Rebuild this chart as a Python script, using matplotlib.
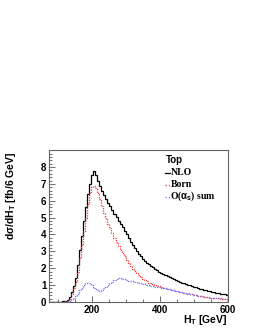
import numpy as np
import matplotlib
matplotlib.use("Agg")
import matplotlib.pyplot as plt
from matplotlib.lines import Line2D
from matplotlib.ticker import MultipleLocator

# 6 GeV bins, 72 -> 600 GeV
bin_lo = 72
bin_w = 6

nlo = [0, 0, 0, 0, 0, 0.01, 0.02, 0.03, 0.06, 0.12,
       0.3, 0.6, 0.95, 1.4, 2.2, 3.1, 3.9, 4.8, 5.6, 6.4,
       7.0, 7.5, 7.75, 7.55, 7.2, 6.9, 6.6, 6.35, 6.1, 5.85,
       5.67, 5.45, 5.23, 5.02, 4.82, 4.62, 4.42, 4.22, 4.0, 3.78,
       3.58, 3.38, 3.18, 3.0, 2.85, 2.7, 2.56, 2.44, 2.33, 2.23,
       2.14, 2.05, 1.96, 1.88, 1.8, 1.72, 1.65, 1.58, 1.52, 1.46,
       1.4, 1.35, 1.3, 1.25, 1.2, 1.15, 1.1, 1.06, 1.02, 0.98,
       0.94, 0.9, 0.86, 0.82, 0.78, 0.75, 0.72, 0.69, 0.66, 0.63,
       0.6, 0.57, 0.54, 0.52, 0.5, 0.47, 0.45, 0.43]

born = [0, 0, 0, 0, 0, 0, 0.01, 0.02, 0.04, 0.08,
        0.2, 0.45, 0.8, 1.2, 1.8, 2.6, 3.4, 4.2, 5.0, 5.8,
        6.45, 6.8, 6.9, 6.75, 6.45, 6.1, 5.7, 5.3, 4.95, 4.65,
        4.4, 4.1, 3.8, 3.55, 3.3, 3.1, 2.9, 2.7, 2.5, 2.3,
        2.12, 1.97, 1.83, 1.7, 1.58, 1.47, 1.38, 1.3, 1.22, 1.15,
        1.1, 1.05, 1.0, 0.96, 0.92, 0.88, 0.85, 0.82, 0.79, 0.76,
        0.73, 0.7, 0.66, 0.63, 0.6, 0.57, 0.54, 0.52, 0.5, 0.48,
        0.46, 0.43, 0.4, 0.37, 0.35, 0.33, 0.31, 0.29, 0.27, 0.26,
        0.25, 0.23, 0.22, 0.21, 0.2, 0.19, 0.18, 0.17]

oas_sum = [0, 0, 0, 0, 0, 0, 0, 0.01, 0.02, 0.04,
           0.08, 0.15, 0.25, 0.38, 0.5, 0.68, 0.85, 1.0, 1.1, 1.15,
           1.12, 1.0, 0.85, 0.75, 0.68, 0.65, 0.7, 0.8, 0.9, 1.0,
           1.1, 1.2, 1.3, 1.36, 1.4, 1.4, 1.37, 1.34, 1.3, 1.27,
           1.25, 1.22, 1.2, 1.17, 1.13, 1.1, 1.07, 1.04, 1.01, 0.98,
           0.96, 0.94, 0.91, 0.89, 0.87, 0.85, 0.82, 0.8, 0.78, 0.76,
           0.73, 0.7, 0.67, 0.64, 0.61, 0.58, 0.55, 0.53, 0.51, 0.49,
           0.47, 0.44, 0.41, 0.38, 0.36, 0.34, 0.32, 0.3, 0.28, 0.26,
           0.25, 0.24, 0.23, 0.22, 0.21, 0.2, 0.19, 0.18]

edges = bin_lo + bin_w * np.arange(len(nlo) + 1)

plt.rcParams['font.family'] = ['Liberation Sans', 'DejaVu Sans']
plt.rcParams['mathtext.fontset'] = 'custom'
plt.rcParams['mathtext.rm'] = 'Liberation Sans:bold'
plt.rcParams['mathtext.it'] = 'Liberation Sans:bold'

fig = plt.figure(figsize=(2.55, 3.3), dpi=100)
ax = fig.add_axes([0.193, 0.085, 0.700, 0.460])

ax.stairs(nlo, edges, color='black', lw=0.9)
ax.stairs(born, edges, color='#ff3030', lw=0.9, linestyle=(0, (1, 1)))
ax.stairs(oas_sum, edges, color='#6a6aff', lw=0.9, linestyle=(0, (1, 1)))

ax.set_xlim(75, 600)
ax.set_ylim(0, 9)
ax.xaxis.set_major_locator(MultipleLocator(200))
ax.xaxis.set_minor_locator(MultipleLocator(50))
ax.yaxis.set_major_locator(MultipleLocator(1))
ax.yaxis.set_minor_locator(MultipleLocator(0.2))
ax.set_yticks(range(0, 9))
ax.tick_params(direction='in', which='both', top=False, right=False,
               labelsize=7, pad=2, width=0.6, color='#555555')
ax.tick_params(which='major', length=4)
ax.tick_params(which='minor', length=2)
for lab in ax.get_xticklabels() + ax.get_yticklabels():
    lab.set_fontweight('bold')
for sp in ax.spines.values():
    sp.set_color('#666666')
    sp.set_linewidth(0.8)

fig.text(0.045, 0.54, r'd$\sigma$/dH$_T$ [fb/6 GeV]', rotation=90,
         fontsize=7.5, fontweight='bold', ha='center', va='top')
fig.text(0.893, 0.008, r'H$_T$ [GeV]', fontsize=7.5, fontweight='bold',
         ha='right', va='bottom')

# legend
fig.text(0.651, 0.515, 'Top', fontsize=7, fontweight='bold', va='center')
leg_items = [('NLO', 'black', '-'), ('Born', '#ff3030', ':'),
             (r'O($\alpha_s$) sum', '#6a6aff', ':')]
for i, (name, col, ls) in enumerate(leg_items):
    yy = 0.476 - i * 0.036
    fig.add_artist(Line2D([0.647, 0.665], [yy, yy], color=col, lw=0.9,
                          linestyle=ls, transform=fig.transFigure))
    fig.text(0.668, yy, name, fontsize=7, fontweight='bold',
             family=['Liberation Serif'], va='center')

fig.savefig('out.png', dpi=100)
